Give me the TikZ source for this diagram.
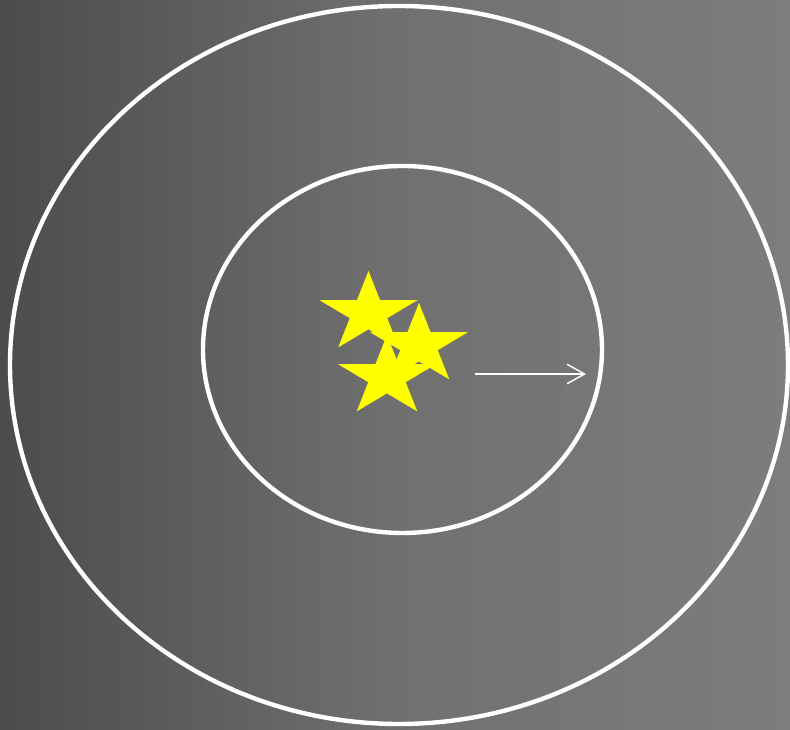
\documentclass[tikz,border=0pt]{standalone}
\usetikzlibrary{arrows.meta}
\definecolor{bgA}{HTML}{4C4C4C}
\definecolor{bgB}{HTML}{707070}
\definecolor{bgC}{HTML}{7D7D7D}
\definecolor{staryellow}{HTML}{FFFF00}
\pgfdeclarehorizontalshading{bgshade}{100bp}{color(0bp)=(bgA); color(25bp)=(bgA); color(50bp)=(bgB); color(75bp)=(bgC); color(100bp)=(bgC)}
\tikzset{
  ring/.style={draw=white, line width=3.3pt},
  starshape/.style={fill=staryellow, draw=none},
  arrowline/.style={draw=white, line width=1.1pt, -{Straight Barb[length=13pt, width=14.5pt, line width=1.1pt]}}
}
\newcommand{\mystar}[2]{%
  \begin{scope}[shift={(#1,#2)}, yscale=-0.82]
    \fill[starshape] (90:51.5) -- (126:19.7) -- (162:51.5) -- (198:19.7) -- (234:51.5) -- (270:19.7) -- (306:51.5) -- (342:19.7) -- (18:51.5) -- (54:19.7) -- cycle;
  \end{scope}}
\begin{document}
\begin{tikzpicture}[x=0.75pt, y=-0.75pt]
\useasboundingbox (0,0) rectangle (790,730);
\shade[shading=bgshade] (0,0) rectangle (790,730);
\draw[ring] (399,365) ellipse [x radius=389, y radius=359];
\draw[ring] (402.5,349.5) ellipse [x radius=199.5, y radius=183.5];
\mystar{368.5}{313.2}
\mystar{419}{345.2}
\mystar{387}{377.2}
\coordinate (arrowstart) at (475,374);
\coordinate (arrowend) at (586,374);
\draw[arrowline] (arrowstart) -- (arrowend);
\end{tikzpicture}
\end{document}
